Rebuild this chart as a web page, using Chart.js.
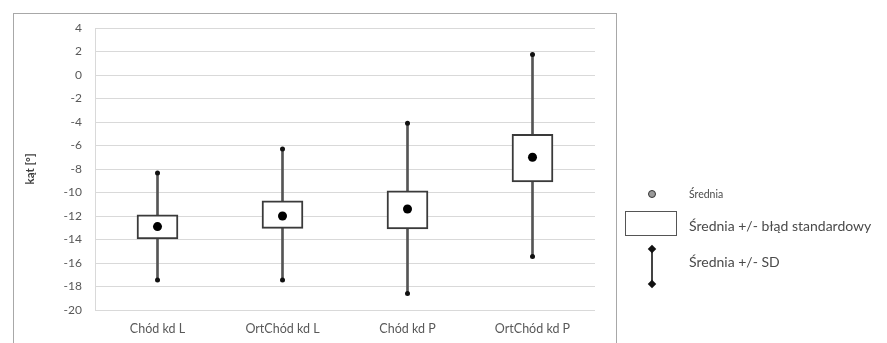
<!DOCTYPE html>
<html>
<head>
<meta charset="utf-8">
<script src="https://cdn.jsdelivr.net/npm/chart.js@4.4.0/dist/chart.umd.min.js"></script>
<style>
  html, body { margin: 0; padding: 0; background: #fff; }
  #wrap { position: relative; width: 887px; height: 343px; overflow: hidden; font-family: Lato, "Open Sans", sans-serif; color: #4a4a4a; }
  #frame { position: absolute; left: 13px; top: 13px; width: 602px; height: 340px; border: 1.5px solid #a8a8a8; border-bottom: none; }
  #c { position: absolute; left: 0; top: 0; }
  .lg { position: absolute; white-space: nowrap; line-height: 1; }
  .dot { position: absolute; left: 648px; top: 190px; width: 6px; height: 6px; border-radius: 50%; background: #9a9a9a; border: 1.5px solid #333; }
  .box { position: absolute; left: 625px; top: 211px; width: 50px; height: 23px; border: 1.5px solid #555; background: #fff; }
  .stem { position: absolute; left: 651px; top: 249px; width: 2px; height: 35px; background: #444; }
  .dia { position: absolute; width: 6px; height: 6px; background: #111; transform: rotate(45deg); }
</style>
</head>
<body>
<div id="wrap">
  <div id="frame"></div>
  <canvas id="c" width="887" height="343"></canvas>
  <div class="dot"></div>
  <div class="lg" style="left:689px; top:189px; font-size:10.5px;">Średnia</div>
  <div class="box"></div>
  <div class="lg" style="left:689px; top:219px; font-size:14px;">Średnia +/- błąd standardowy</div>
  <div class="stem"></div>
  <div class="dia" style="left:649px; top:246px;"></div>
  <div class="dia" style="left:649px; top:281px;"></div>
  <div class="lg" style="left:689px; top:255px; font-size:14px;">Średnia +/- SD</div>
</div>
<script>
// Joint angle summary per walking condition
const categories = ['Chód kd L', 'OrtChód kd L', 'Chód kd P', 'OrtChód kd P'];
const means  = [-12.9, -12.0, -11.4, -7.0];
const seLow  = [-13.95, -13.05, -13.1, -9.1];
const seHigh = [-11.9, -10.7, -9.85, -5.05];
const sdLow  = [-17.45, -17.45, -18.6, -15.45];
const sdHigh = [-8.35, -6.3, -4.1, 1.75];
const yTicks = { min: -20, max: 4, step: 2 };

const dark = '#3a3a3a';
const textColor = '#595959';

Chart.defaults.font.family = 'Lato, "Open Sans", sans-serif';
Chart.defaults.font.size = 12;
Chart.defaults.color = textColor;

const pairs = (lo, hi) => lo.map((v, i) => [v, hi[i]]);

new Chart(document.getElementById('c'), {
  type: 'bar',
  data: {
    labels: categories,
    datasets: [
      { // mean
        type: 'line', data: means, showLine: false,
        pointRadius: 4.5, pointBackgroundColor: '#000', pointBorderWidth: 0
      },
      { // +SD end
        type: 'line', data: sdHigh, showLine: false,
        pointRadius: 2.5, pointBackgroundColor: '#111', pointBorderWidth: 0
      },
      { // -SD end
        type: 'line', data: sdLow, showLine: false,
        pointRadius: 2.5, pointBackgroundColor: '#111', pointBorderWidth: 0
      },
      { // mean +/- standard error
        type: 'bar', data: pairs(seLow, seHigh), grouped: false,
        barThickness: 41, backgroundColor: '#fff', borderColor: dark,
        borderWidth: 2, borderSkipped: false
      },
      { // mean +/- SD stem
        type: 'bar', data: pairs(sdLow, sdHigh), grouped: false,
        barThickness: 2, backgroundColor: '#555', borderWidth: 0
      }
    ]
  },
  options: {
    responsive: false,
    animation: false,
    events: [],
    layout: { padding: { top: 28, right: 292, bottom: 0, left: 0 } },
    plugins: { legend: { display: false }, tooltip: { enabled: false } },
    scales: {
      x: {
        grid: { display: false, drawTicks: false },
        border: { display: false },
        ticks: { padding: 11, color: textColor, font: { size: 12.5 } },
        afterFit: s => { s.height = 33; }
      },
      y: {
        min: yTicks.min, max: yTicks.max,
        grid: { color: '#d9d9d9', lineWidth: 1, drawTicks: false },
        border: { display: true, color: '#d9d9d9' },
        ticks: { stepSize: yTicks.step, padding: 13, color: textColor, font: { size: 12 } },
        title: { display: true, text: 'kąt [°]', color: '#404040', font: { size: 11.5, weight: 'bold' }, padding: { top: 23, bottom: 0 } },
        afterFit: s => { s.width = 95; }
      }
    }
  }
});
</script>
</body>
</html>
